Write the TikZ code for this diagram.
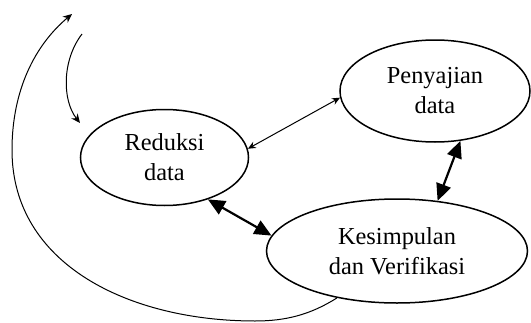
\documentclass[tikz,border=0pt]{standalone}
\usepackage{fontspec}
\setmainfont{Liberation Serif}
\usepackage{tikz}
\usepackage{xcolor}
\usetikzlibrary {shapes.geometric}
\usetikzlibrary {arrows.meta,positioning,calc}
\tikzstyle{AnalysisStepNode} =[draw,ellipse,line width=0.75pt,inner sep=0pt,align=center,font=\fontsize{12.2}{15}\selectfont]
\tikzstyle{ThinLink} =[line width=0.5pt,{Stealth[length=4pt,width=3.5pt]}-{Stealth[length=4pt,width=3.5pt]}]
\tikzstyle{ThickLink} =[line width=1.1pt,{Triangle[length=8.5pt,width=7.5pt]}-{Triangle[length=8.5pt,width=7.5pt]}]
\tikzstyle{CycleLink} =[line width=0.5pt,-{Stealth[length=4.5pt,width=4pt]}]

\begin{document}
\begin{tikzpicture}[x=0.5pt,y=0.5pt]
\useasboundingbox (0,0) rectangle (531,-322);
\node[AnalysisStepNode,minimum width=84pt,minimum height=48pt](Reduksi-data) at (164.5,-157.5){Reduksi\\data};
\node[AnalysisStepNode,minimum width=95pt,minimum height=51pt](Penyajian-data) at (435,-91){Penyajian\\data};
\node[AnalysisStepNode,minimum width=130.5pt,minimum height=52pt](Kesimpulan) at (397,-251){Kesimpulan\\dan Verifikasi};
\coordinate (LoopStart) at (82,-34);
\coordinate (LoopEnd) at (80,-123);
\coordinate (CycleBottom) at (255,-321);
\coordinate (CycleLeft) at (12,-150);
\coordinate (CycleTop) at (72,-14);
\draw[ThinLink] (Reduksi-data.6) -- (Penyajian-data.184);
\draw[ThickLink] (Penyajian-data.297) -- (Kesimpulan.51);
\draw[ThickLink] (Reduksi-data.316) -- (Kesimpulan.173);
\draw[CycleLink] (LoopStart) .. controls (62,-60) and (62,-100) .. (LoopEnd);
\draw[CycleLink] (Kesimpulan.218) .. controls (310,-315) and (285,-321) .. (CycleBottom)
  .. controls (130,-321) and (12,-265) .. (CycleLeft)
  .. controls (12,-90) and (35,-45) .. (CycleTop);
\end{tikzpicture}
\end{document}
